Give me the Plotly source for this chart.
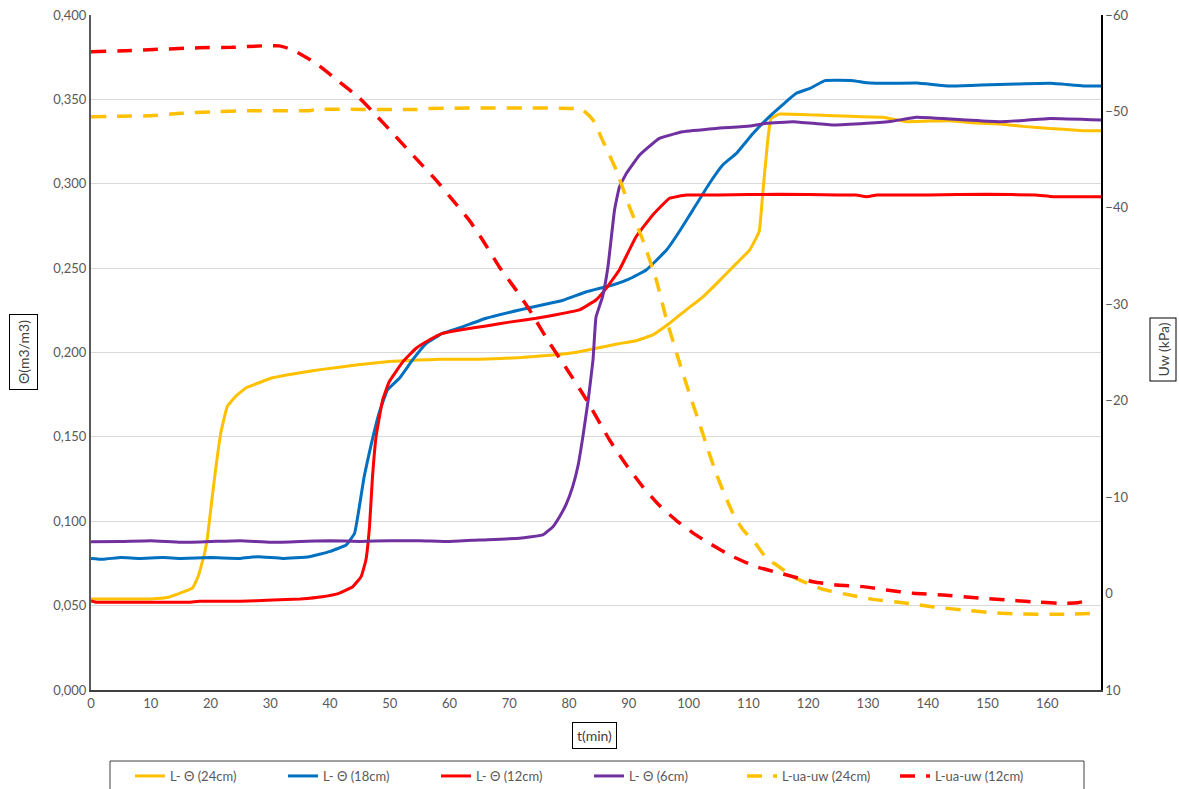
import plotly.graph_objects as go

# ---------------- data ----------------
t_th24 = [0, 5, 10, 13, 15, 17, 18, 19, 19.5, 20.2, 20.9, 21.7, 22.8, 24.2, 25.9, 30.4, 35, 38.7,
          44.3, 49.9, 54.9, 58.3, 65, 72, 77.3, 81, 84.5, 88, 91.2, 94, 96.8, 99.5, 102.4, 105,
          108, 110.2, 111.8, 112.4, 113.3, 113.8, 115.2, 121.4, 127, 132.5, 136.5, 143.7, 148,
          152.1, 156, 160.5, 166, 169]
th24 = [0.054, 0.054, 0.054, 0.055, 0.0575, 0.0605, 0.068, 0.081, 0.091, 0.112, 0.132, 0.152,
        0.168, 0.174, 0.179, 0.185, 0.188, 0.190, 0.1926, 0.1946, 0.1955, 0.196, 0.196, 0.197,
        0.1985, 0.200, 0.2025, 0.205, 0.207, 0.2104, 0.2173, 0.225, 0.233, 0.242, 0.2528,
        0.2607, 0.2716, 0.2943, 0.3279, 0.3387, 0.3413, 0.3407, 0.340, 0.3394, 0.3368, 0.3374,
        0.336, 0.3354, 0.334, 0.3328, 0.3314, 0.3314]

t_th18 = [0, 2, 5, 8, 12, 15, 20, 25, 28, 32, 36.5, 39.9, 42.7, 44.1, 44.9, 45.7, 46.8, 48.2,
          49.6, 51.6, 53.8, 56.1, 58.8, 62, 66.1, 71.7, 76.2, 79, 82.9, 87.3, 90, 92.9, 96.3,
          98.5, 100.7, 103.5, 105.7, 108, 110.8, 114.1, 118, 120.3, 122.8, 127.5, 129.8, 134,
          138.2, 143.7, 149, 154.9, 160.5, 166, 169]
th18 = [0.078, 0.0775, 0.0785, 0.078, 0.0785, 0.078, 0.0785, 0.078, 0.079, 0.078, 0.079, 0.082,
        0.0859, 0.0929, 0.1086, 0.1264, 0.1442, 0.164, 0.1778, 0.1847, 0.1956, 0.2054, 0.2113,
        0.215, 0.2203, 0.2252, 0.2287, 0.231, 0.236, 0.240, 0.2435, 0.2489, 0.2607, 0.272,
        0.2844, 0.3003, 0.3111, 0.318, 0.3299, 0.3417, 0.3536, 0.3565, 0.3611, 0.3611, 0.3599,
        0.3595, 0.3597, 0.3579, 0.3585, 0.3591, 0.3595, 0.358, 0.358]

t_th12 = [0, 1, 5, 10, 16.4, 18.1, 25, 30.4, 35, 38.7, 41.5, 43.8, 45.2, 46, 46.6, 47.1, 47.7,
          48.8, 49.9, 52.2, 54.4, 56.6, 58.8, 62, 66.1, 70, 74.5, 78, 81.7, 84.5, 86.2, 88.4,
          91.2, 94, 96.8, 99.6, 105, 115, 125, 128, 129.8, 131.5, 140, 150, 158, 161, 169]
th12 = [0.0528, 0.052, 0.052, 0.052, 0.052, 0.0526, 0.0526, 0.0533, 0.054, 0.0553, 0.0573,
        0.0612, 0.0672, 0.077, 0.0968, 0.1264, 0.1501, 0.1719, 0.1827, 0.1946, 0.2025, 0.2074,
        0.2113, 0.2135, 0.2157, 0.218, 0.2203, 0.2225, 0.2252, 0.2311, 0.238, 0.2489, 0.2686,
        0.2815, 0.2914, 0.2933, 0.2933, 0.2938, 0.2933, 0.2933, 0.2923, 0.2933, 0.2933,
        0.2938, 0.2933, 0.2923, 0.2923]

t_th6 = [0, 5, 10, 15, 20, 25, 30, 35, 40, 45, 50, 55, 60, 65, 71.7, 75.6, 77.3, 78.4, 79.5,
         80.6, 81.5, 82.3, 83.2, 84, 84.5, 85.6, 86.5, 87.6, 88.4, 89.6, 91.8, 95.1, 99, 104.6,
         110.2, 113, 117.5, 124.2, 129.8, 134, 138.1, 146.5, 152.1, 156, 160.5, 169]
th6 = [0.0879, 0.088, 0.0885, 0.0875, 0.088, 0.0885, 0.0875, 0.088, 0.0885, 0.088, 0.0885,
       0.0885, 0.088, 0.0889, 0.0899, 0.0919, 0.0968, 0.1027, 0.110, 0.1205, 0.133, 0.150,
       0.172, 0.1956, 0.221, 0.2331, 0.2508, 0.2844, 0.298, 0.3062, 0.317, 0.3269, 0.3308,
       0.3328, 0.3342, 0.3358, 0.3368, 0.3348, 0.3358, 0.337, 0.3394, 0.3378, 0.3368, 0.3375,
       0.3387, 0.3378]

t_uw24 = [0, 5, 10, 15, 20, 26.5, 36.5, 37.6, 54.4, 56.1, 81.2, 82.3, 84, 85.6, 87.9, 90.1,
          92.3, 94.6, 96.3, 98.5, 100.2, 101.8, 103.2, 104.6, 106, 107.4, 109, 111.3, 113.1,
          114.7, 118, 122.5, 127, 130.9, 136.5, 140.7, 145.8, 150.9, 155.4, 161.9, 168.9]
uw24 = [-49.45, -49.5, -49.55, -49.8, -49.95, -50.08, -50.08, -50.2, -50.2, -50.3, -50.3,
        -50.15, -49.1, -47.0, -43.9, -40.1, -36.7, -32.5, -28.4, -23.9, -20.6, -17.66, -15.0,
        -12.47, -10.3, -8.33, -6.7, -5.1, -3.6, -2.96, -1.58, -0.44, 0.15, 0.6, 1.0, 1.36,
        1.7, 1.98, 2.12, 2.15, 2.05]

t_uw12 = [0, 5.8, 9.7, 18.1, 23.6, 28.7, 31.5, 33.7, 37.6, 41.5, 44.9, 47.7, 51, 54.4, 57.7,
          60, 63.3, 65.5, 68.3, 71.1, 73.4, 76.5, 79.5, 82.9, 86.8, 89.5, 92.3, 95, 97.9,
          100.7, 103.5, 107.4, 111.3, 115.8, 120.8, 124.7, 129.2, 133.1, 137.6, 142.6, 149,
          154, 158.7, 161.9, 165.1, 166.7]
uw12 = [-56.2, -56.3, -56.4, -56.6, -56.65, -56.8, -56.8, -56.4, -55.0, -53.1, -51.4, -49.6,
        -47.4, -45.1, -42.9, -41.2, -38.7, -36.7, -33.9, -31.5, -29.4, -26.2, -23.4, -20.1,
        -15.9, -13.4, -11.1, -9.2, -7.6, -6.3, -5.2, -3.83, -2.79, -2.03, -1.23, -0.89,
        -0.72, -0.37, -0.03, 0.15, 0.49, 0.7, 0.9, 1.01, 0.95, 0.74]

names = ["L- Θ (24cm)", "L- Θ (18cm)", "L- Θ (12cm)", "L- Θ (6cm)",
         "L-ua-uw (24cm)", "L-ua-uw (12cm)"]
x_ticks = [0, 10, 20, 30, 40, 50, 60, 70, 80, 90, 100, 110, 120, 130, 140, 150, 160]

# ---------------- figure ----------------
YEL, BLU, RED, PUR = "#FFC000", "#0070C0", "#FF0000", "#7030A0"
fig = go.Figure()
solid = [(t_th24, th24, YEL), (t_th18, th18, BLU), (t_th12, th12, RED), (t_th6, th6, PUR)]
for i, (tx, ty, c) in enumerate(solid):
    fig.add_trace(go.Scatter(x=tx, y=ty, mode="lines", name=names[i],
                             line=dict(color=c, width=3, shape="spline", smoothing=0.3)))
dashed = [(t_uw24, uw24, YEL), (t_uw12, uw12, RED)]
for j, (tx, ty, c) in enumerate(dashed):
    fig.add_trace(go.Scatter(x=tx, y=ty, mode="lines", name=names[4 + j], yaxis="y2",
                             line=dict(color=c, width=3.5, dash="15px,11px",
                                       shape="spline", smoothing=0.5)))

FONT = "Lato, 'Open Sans', sans-serif"
TICKC = "#595959"
W, H = 1179, 789
L, R, T, B = 91, 78, 15, 99
PW, PH = W - L - R, H - T - B
BOTTOM = H - B  # pixel row of the x axis
fig.update_layout(
    width=W, height=H,
    margin=dict(l=L, r=R, t=T, b=B, autoexpand=False),
    paper_bgcolor="white", plot_bgcolor="white",
    separators=",.",
    font=dict(family=FONT, size=13, color=TICKC),
    showlegend=True,
    xaxis=dict(range=[0, 169], tickvals=x_ticks, showgrid=False, zeroline=False,
               showline=True, linecolor="#404040", linewidth=2, ticks="",
               tickfont=dict(size=13, color=TICKC)),
    yaxis=dict(range=[0, 0.4], dtick=0.05, tickformat=".3f", showgrid=True,
               gridcolor="#d9d9d9", gridwidth=1, zeroline=False, showline=True,
               linecolor="#595959", linewidth=2, ticks="", tickfont=dict(size=13, color=TICKC)),
    yaxis2=dict(range=[10, -60], dtick=10, overlaying="y", side="right", showgrid=False,
                zeroline=False, showline=True, linecolor="#000000", linewidth=1.5, ticks="",
                tickfont=dict(size=13, color=TICKC)),
    legend=dict(orientation="h", x=130 / W, y=(H - 761) / H, xref="container",
                yref="container", xanchor="left", yanchor="top",
                borderwidth=0, bgcolor="rgba(0,0,0,0)",
                font=dict(size=13, color=TICKC), entrywidth=108, entrywidthmode="pixels"),
    shapes=[dict(type="rect", xref="paper", yref="paper",
                 x0=(110 - L) / PW, x1=(1084 - L) / PW,
                 y0=-(761 - BOTTOM) / PH, y1=-(800 - BOTTOM) / PH,
                 line=dict(color="#404040", width=1), fillcolor="rgba(0,0,0,0)")],
    annotations=[
        dict(text="Θ(m3/m3)", xref="paper", yref="paper", x=(23.5 - L) / PW, y=0.5,
             xanchor="center", yanchor="middle",
             textangle=-90, showarrow=False, bordercolor="#000000", borderwidth=1,
             borderpad=5, font=dict(size=14, color="#404040")),
        dict(text="Uw (kPa)", xref="paper", yref="paper", x=(1162.5 - L) / PW,
             y=(BOTTOM - 350) / PH, xanchor="center", yanchor="middle",
             textangle=-90, showarrow=False, bordercolor="#000000", borderwidth=1,
             borderpad=4, font=dict(size=14, color="#404040")),
        dict(text="t(min)", xref="paper", yref="paper", x=(594.5 - L) / PW,
             y=-(735.5 - BOTTOM) / PH, xanchor="center", yanchor="middle",
             showarrow=False, bordercolor="#000000", borderwidth=1,
             borderpad=4, font=dict(size=14, color="#404040")),
    ],
)
fig.write_html("out.html", config={"displayModeBar": False},
               post_script="document.body.style.margin='0';document.body.style.overflow='hidden';")
